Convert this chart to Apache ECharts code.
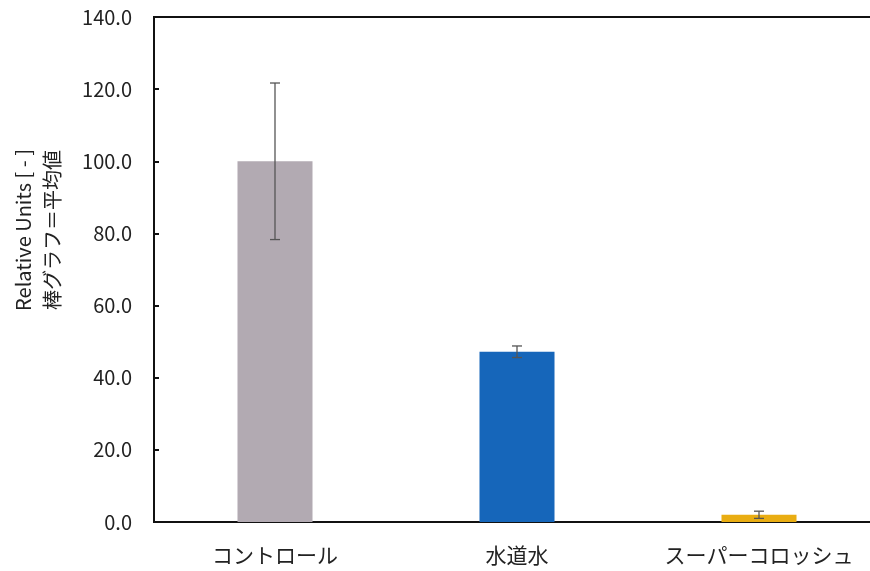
<!DOCTYPE html>
<html>
<head>
<meta charset="utf-8">
<script src="https://cdn.jsdelivr.net/npm/echarts@6/dist/echarts.min.js"></script>
<style>
  html, body { margin: 0; padding: 0; background: #fff; }
  #chart { width: 870px; height: 571px; }
</style>
</head>
<body>
<div id="chart"></div>
<script>
var categories = ['コントロール', '水道水', 'スーパーコロッシュ']
var means = [100.0, 47.2, 2.0]
var errors = [21.7, 1.6, 1.0]
var barColors = ['#b2aab2', '#1666ba', '#e9ad12']
var yTicks = { min: 0, max: 140, interval: 20 }

var font = '"Noto Sans CJK JP", "Noto Sans", sans-serif'

var chart = echarts.init(document.getElementById('chart'))

var option = {
  animation: false,
  grid: {
    left: 154,
    width: 726,
    top: 17,
    bottom: 49,
    outerBoundsMode: 'none',
    containLabel: false,
    show: true,
    borderColor: '#111',
    borderWidth: 2
  },
  graphic: [
    {
      // y axis title, two lines, reads bottom to top
      type: 'text',
      x: 38,
      y: 230,
      rotation: Math.PI / 2,
      style: {
        text: 'Relative Units [ - ]\n棒グラフ＝平均値',
        font: '20px ' + font,
        fill: '#222',
        align: 'center',
        verticalAlign: 'middle',
        lineHeight: 29
      }
    }
  ],
  xAxis: {
    type: 'category',
    data: categories,
    axisLine: { lineStyle: { color: '#111', width: 2 } },
    axisTick: { show: false },
    axisLabel: { color: '#222', fontSize: 21, margin: 23, interval: 0, hideOverlap: false, fontFamily: font }
  },
  yAxis: {
    type: 'value',
    min: yTicks.min,
    max: yTicks.max,
    interval: yTicks.interval,
    splitLine: { show: false },
    axisLine: { show: true, lineStyle: { color: '#111', width: 2 } },
    axisTick: { show: true, inside: true, length: 5, lineStyle: { color: '#111', width: 2 } },
    axisLabel: {
      color: '#222',
      fontSize: 20,
      margin: 22,
      fontFamily: font,
      formatter: function (v) { return v.toFixed(1) }
    }
  },
  series: [
    {
      type: 'bar',
      barWidth: '31%',
      data: means.map(function (v, i) {
        return { value: v, itemStyle: { color: barColors[i] } }
      })
    },
    {
      type: 'custom',
      z: 10,
      data: means.map(function (v, i) { return [i, v - errors[i], v + errors[i]] }),
      renderItem: function (params, api) {
        var lo = api.coord([api.value(0), api.value(1)])
        var hi = api.coord([api.value(0), api.value(2)])
        var cap = 5
        var style = { stroke: '#555', lineWidth: 1.3 }
        return {
          type: 'group',
          children: [
            { type: 'line', shape: { x1: hi[0], y1: hi[1], x2: lo[0], y2: lo[1] }, style: style },
            { type: 'line', shape: { x1: hi[0] - cap, y1: hi[1], x2: hi[0] + cap, y2: hi[1] }, style: style },
            { type: 'line', shape: { x1: lo[0] - cap, y1: lo[1], x2: lo[0] + cap, y2: lo[1] }, style: style }
          ]
        }
      }
    }
  ]
}

chart.setOption(option)
</script>
</body>
</html>
